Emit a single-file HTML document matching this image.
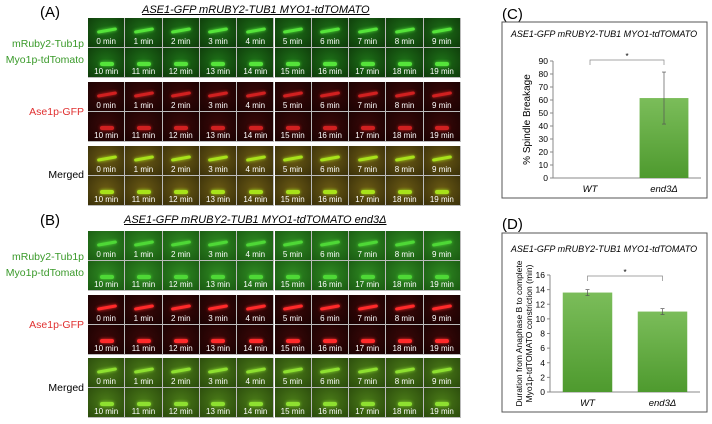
<!DOCTYPE html>
<html><head><meta charset="utf-8"><style>
body{margin:0;width:712px;height:424px;background:#fff;position:relative;overflow:hidden;font-family:"Liberation Sans",sans-serif}
.abs{position:absolute}
.lbl{position:absolute;font-size:10.5px;text-align:right;width:84px;left:0}
.pl{position:absolute;font-size:15px}
.ttl{position:absolute;font-size:11px;font-style:italic;text-decoration:underline;white-space:nowrap}
.cell{position:absolute;overflow:hidden;box-sizing:border-box;border-right:1px solid #bbb;border-bottom:1px solid #bbb}
.cell span{position:absolute;bottom:1px;left:0;right:0;text-align:center;color:#fff;font-size:8px}
</style></head><body>
<div class="pl" style="left:40px;top:4px">(A)</div>
<div class="ttl" style="left:142px;top:4px">ASE1-GFP mRUBY2-TUB1 MYO1-tdTOMATO</div>
<div class="pl" style="left:40px;top:212px">(B)</div>
<div class="ttl" style="left:124px;top:214px">ASE1-GFP mRUBY2-TUB1 MYO1-tdTOMATO end3Δ</div>
<div class="lbl" style="top:36px;color:#3a9a2a;line-height:16px">mRuby2-Tub1p<br>Myo1p-tdTomato</div>
<div class="lbl" style="top:106px;color:#e03030">Ase1p-GFP</div>
<div class="lbl" style="top:169px;color:#000">Merged</div>
<div class="lbl" style="top:249px;color:#3a9a2a;line-height:16px">mRuby2-Tub1p<br>Myo1p-tdTomato</div>
<div class="lbl" style="top:319px;color:#e03030">Ase1p-GFP</div>
<div class="lbl" style="top:382px;color:#000">Merged</div>
<div id="grid"></div>

<div class="pl" style="left:502px;top:6px">(C)</div>
<div class="pl" style="left:502px;top:216px">(D)</div>
<svg class="abs" style="left:0;top:0" width="712" height="424" id="charts">
<rect x="502" y="22" width="205" height="176" fill="none" stroke="#555"/>
<rect x="502" y="233" width="205" height="179" fill="none" stroke="#555"/>
<text x="604" y="37" font-size="9" font-style="italic" text-anchor="middle">ASE1-GFP mRUBY2-TUB1 MYO1-tdTOMATO</text>
<text x="604" y="252" font-size="9" font-style="italic" text-anchor="middle">ASE1-GFP mRUBY2-TUB1 MYO1-tdTOMATO</text>
<defs><linearGradient id="g" x1="0" y1="0" x2="0" y2="1"><stop offset="0" stop-color="#7bbd5a"/><stop offset="1" stop-color="#4e9a2e"/></linearGradient></defs>
<g id="cC"></g><g id="cD"></g>
</svg>
<script>
// ---- microscopy grid ----
const blocks=[
 {n:'a-green',y:18,t:'g'},{n:'a-red',y:82,t:'r'},{n:'a-merged',y:146,t:'m'},
 {n:'b-green',y:231,t:'g2'},{n:'b-red',y:295,t:'r2'},{n:'b-merged',y:358,t:'m2'}];
const bgs={g:['#1e7018','#0e3a0a'],g2:['#2f8a22','#1a5a12'],r:['#3a0808','#1a0202'],r2:['#3a0808','#1a0202'],m:['#6a5a14','#3a300a'],m2:['#4a7a18','#2a4a0c']};
const fg={g:'#55e43a',g2:'#4ed836',r:'#d02020',r2:'#ff2a2a',m:'#a8e21a',m2:'#8ee030'};
const grid=document.getElementById('grid');
blocks.forEach(b=>{
 for(let row=0;row<2;row++)for(let c=0;c<10;c++){
  const d=document.createElement('div');
  d.className='cell';
  
  
  const x=88+c*37.3,y=b.y+row*30;
  d.style.cssText=`left:${x}px;top:${y}px;width:37.3px;height:30px;background:radial-gradient(ellipse at 50% 45%, ${bgs[b.t][0]}, ${bgs[b.t][1]})`;
  const s=document.createElement('div');
  const w=row?14:20;
  s.style.cssText=`position:absolute;left:${(37-w)/2}px;top:${row?14:11}px;width:${w}px;height:${row?4:3}px;background:${fg[b.t]};border-radius:2px;transform:rotate(${row?0:-10}deg);box-shadow:0 0 3px ${fg[b.t]}`;
  d.appendChild(s);
  const l=document.createElement('span');
  l.textContent=(row*10+c)+' min';
  d.appendChild(l);
  grid.appendChild(d);
 }});
// ---- chart C ----
const catsC=['WT','end3Δ'];
const valsC=[0,61.5];
const errC=[0,20];
const ticksC=[0,10,20,30,40,50,60,70,80,90];
// ---- chart D ----
const catsD=['WT','end3Δ'];
const valsD=[13.6,11.0];
const errD=[0.4,0.4];
const ticksD=[0,2,4,6,8,10,12,14,16];
const NS='http://www.w3.org/2000/svg';
function el(p,tag,a,txt){const e=document.createElementNS(NS,tag);for(const k in a)e.setAttribute(k,a[k]);if(txt!=null)e.textContent=txt;p.appendChild(e);return e;}
function chart(gid,cats,vals,errs,ticks,o){
 const g=document.getElementById(gid);
 const max=ticks[ticks.length-1];
 const Y=v=>o.y0-(v/max)*(o.y0-o.yt);
 const X=i=>o.x0+o.bw*(i+0.5);
 let e=el(g,'line',{x1:o.x0,y1:o.yt,x2:o.x0,y2:o.y0,stroke:'#888'});
 
 e=el(g,'line',{x1:o.x0,y1:o.y0,x2:o.x0+o.bw*2,y2:o.y0,stroke:'#888'});
 
 ticks.forEach(t=>{
  el(g,'line',{x1:o.x0-3,y1:Y(t),x2:o.x0,y2:Y(t),stroke:'#888'});
  e=el(g,'text',{x:o.x0-5,y:Y(t)+3,'font-size':8.5,'text-anchor':'end'},t);
  
 });
 cats.forEach((c,i)=>{
  const w=o.bw*0.66;
  if(vals[i]>0){e=el(g,'rect',{x:X(i)-w/2,y:Y(vals[i]),width:w,height:o.y0-Y(vals[i]),fill:'url(#g)'});
  }
  if(errs[i]>0){el(g,'line',{x1:X(i),y1:Y(vals[i]-errs[i]),x2:X(i),y2:Y(vals[i]+errs[i]),stroke:'#555','stroke-width':0.7});
   el(g,'line',{x1:X(i)-2,y1:Y(vals[i]+errs[i]),x2:X(i)+2,y2:Y(vals[i]+errs[i]),stroke:'#555','stroke-width':0.7});
   el(g,'line',{x1:X(i)-2,y1:Y(vals[i]-errs[i]),x2:X(i)+2,y2:Y(vals[i]-errs[i]),stroke:'#555','stroke-width':0.7});}
  e=el(g,'text',{x:X(i),y:o.y0+14,'font-size':9.5,'font-style':'italic','text-anchor':'middle'},c);
  
 });
 const by=o.brY;
 el(g,'path',{d:`M${X(0)} ${by+5}V${by}H${X(1)}V${by+5}`,fill:'none',stroke:'#888','stroke-width':0.7});
 e=el(g,'text',{x:(X(0)+X(1))/2,y:by-1,'font-size':8,'text-anchor':'middle'},'*');
 
 o.yl.forEach((s,k)=>{e=el(g,'text',{transform:`translate(${o.ylx+k*10},${(o.y0+o.yt)/2}) rotate(-90)`,'font-size':o.yfs,'text-anchor':'middle'},s);
 });
}
chart('cC',catsC,valsC,errC,ticksC,{x0:553,y0:178,yt:61,bw:74,brY:60,yl:['% Spindle Breakage'],ylx:530,yfs:10});
chart('cD',catsD,valsD,errD,ticksD,{x0:550,y0:392,yt:275,bw:75,brY:276,yl:['Duration from Anaphase B to complete','Myo1p-tdTOMATO constriction (min)'],ylx:522,yfs:8.5});
</script>
</body></html>
